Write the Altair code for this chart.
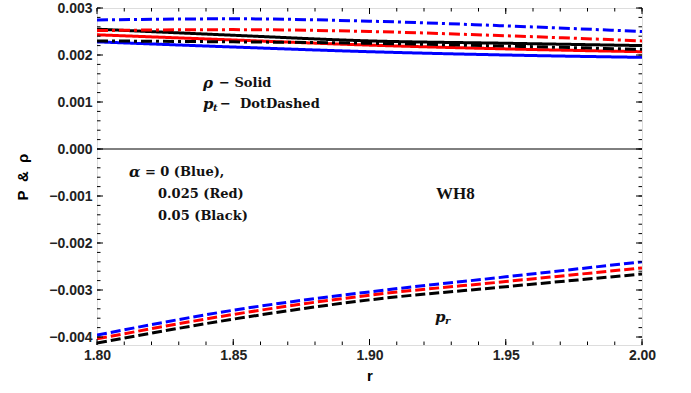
import altair as alt
import pandas as pd

# ---- data (values in units of 1e-3) ----
r_vals = [1.80, 1.85, 1.90, 1.95, 2.00]
alphas = ["0", "0.025", "0.05"]
rho_blue = [2.28, 2.17, 2.07, 2.00, 1.95]
rho_red = [2.43, 2.32, 2.21, 2.13, 2.07]
rho_black = [2.55, 2.42, 2.30, 2.25, 2.20]
pt_blue = [2.745, 2.77, 2.72, 2.62, 2.50]
pt_red = [2.52, 2.54, 2.50, 2.41, 2.30]
pt_black = [2.30, 2.28, 2.25, 2.19, 2.12]
pr_blue = [-3.96, -3.43, -3.04, -2.72, -2.40]
pr_red = [-4.04, -3.52, -3.11, -2.82, -2.53]
pr_black = [-4.13, -3.62, -3.21, -2.93, -2.66]

x_ticks = [1.80, 1.85, 1.90, 1.95, 2.00]
x_minor = [round(1.80 + 0.01 * i, 2) for i in range(21)]
y_ticks = [-0.004, -0.003, -0.002, -0.001, 0.0, 0.001, 0.002, 0.003]
y_minor = [round(-0.0040 + 0.0002 * i, 4) for i in range(36)]

series = {
    ("rho", "0"): rho_blue, ("rho", "0.025"): rho_red, ("rho", "0.05"): rho_black,
    ("pt", "0"): pt_blue, ("pt", "0.025"): pt_red, ("pt", "0.05"): pt_black,
    ("pr", "0"): pr_blue, ("pr", "0.025"): pr_red, ("pr", "0.05"): pr_black,
}
rows = []
for (q, a), vals in series.items():
    for r, v in zip(r_vals, vals):
        rows.append({"r": r, "v": v * 1e-3, "q": q, "alpha": a, "key": q + "_" + a})
df = pd.DataFrame(rows)

W, H = 545, 337
xs = alt.Scale(domain=[1.8, 2.0], nice=False, zero=False)
ys = alt.Scale(domain=[-0.00417, 0.003], nice=False, zero=False)
NB = "\u00a0"

lines = alt.Chart(df).mark_line(strokeWidth=3, interpolate="monotone", clip=True).encode(
    x=alt.X("r:Q", scale=xs, axis=alt.Axis(values=x_ticks, format=".2f", title="r", ticks=False,
                                           domain=False, grid=False, labelFont="Liberation Sans",
                                           labelFontWeight="bold", labelFontSize=14, labelColor="#222",
                                           labelPadding=3, titleFont="Liberation Sans", titleFontSize=15,
                                           titleFontWeight="bold", titlePadding=6, labelFlush=False)),
    y=alt.Y("v:Q", scale=ys, axis=alt.Axis(values=y_ticks, format=".3f",
                                           title="P" + NB * 2 + "&" + NB * 2 + "ρ", ticks=False,
                                           domain=False, grid=False, labelFont="Liberation Sans",
                                           labelFontWeight="bold", labelFontSize=14, labelColor="#222",
                                           labelPadding=5, titleFont="Liberation Sans", titleFontSize=15,
                                           titleFontWeight="bold", titlePadding=18, labelFlush=False)),
    color=alt.Color("alpha:N", scale=alt.Scale(domain=alphas, range=["#0000ff", "#ff0000", "#000000"]), legend=None),
    strokeDash=alt.StrokeDash("q:N", scale=alt.Scale(domain=["rho", "pt", "pr"],
                                                     range=[[1, 0], [11, 4, 3, 4], [10, 4]]), legend=None),
    detail="key:N",
)

zero = alt.Chart(pd.DataFrame({"v": [0.0]})).mark_rule(color="black", strokeWidth=1).encode(
    y=alt.Y("v:Q", scale=ys))

def xtick(vals, y0, y1):
    return alt.Chart(pd.DataFrame({"t": vals})).mark_rule(color="black", strokeWidth=1).encode(
        x=alt.X("t:Q", scale=xs), y=alt.value(y0), y2=alt.value(y1))

def ytick(vals, x0, x1):
    return alt.Chart(pd.DataFrame({"t": vals})).mark_rule(color="black", strokeWidth=1).encode(
        y=alt.Y("t:Q", scale=ys), x=alt.value(x0), x2=alt.value(x1))

ticks = [
    xtick(x_ticks, H, H - 6), xtick(x_minor, H, H - 3.5),
    xtick(x_ticks, 0, 6), xtick(x_minor, 0, 3.5),
    ytick(y_ticks, 0, 6), ytick(y_minor, 0, 3.5),
    ytick(y_ticks, W, W - 6), ytick(y_minor, W, W - 3.5),
]

SERIF = "DejaVu Serif"
# annotations (data coordinates)
ann = [
    # r, v, text, italic, font, size, dx, dy
    (1.8389, 0.001404, "ρ", True, SERIF, 15, 0, 0),
    (1.8389, 0.001404, "− Solid", False, SERIF, 13, 16, 0),
    (1.8389, 0.000957, "p", True, SERIF, 15, 0, 0),
    (1.8389, 0.000957, "t", True, SERIF, 10, 10, 4),
    (1.8389, 0.000957, "−" + NB * 2 + "DotDashed", False, SERIF, 13, 17, 0),
    (1.8117, -0.000489, "α", True, SERIF, 15, 0, 0),
    (1.8117, -0.000489, "= 0 (Blue),", False, SERIF, 13, 16, 0),
    (1.8224, -0.000957, "0.025 (Red)", False, SERIF, 13, 0, 0),
    (1.8224, -0.001426, "0.05 (Black)", False, SERIF, 13, 0, 0),
    (1.9244, -0.000957, "WH8", False, "Liberation Serif", 17, 0, 0),
    (1.9240, -0.003574, "p", True, SERIF, 15, 0, 0),
    (1.9240, -0.003574, "r", True, SERIF, 10, 10, 4),
]
texts = []
for r, v, t, it, fnt, sz, dx, dy in ann:
    texts.append(alt.Chart(pd.DataFrame({"r": [r], "v": [v], "t": [t]})).mark_text(
        align="left", baseline="middle", font=fnt, fontWeight="bold",
        fontStyle="italic" if it else "normal", fontSize=sz, dx=dx, dy=dy, color="#111").encode(
        x=alt.X("r:Q", scale=xs), y=alt.Y("v:Q", scale=ys), text="t:N"))

chart = alt.layer(zero, lines, *ticks, *texts).properties(
    width=W, height=H,
    autosize=alt.AutoSizeParams(type="none"),
    padding={"left": 97, "top": 8, "right": 49, "bottom": 48},
).configure_view(stroke="black", strokeWidth=1).configure(background="white")

chart.save("out.html", embed_options={"renderer": "svg", "actions": False})
